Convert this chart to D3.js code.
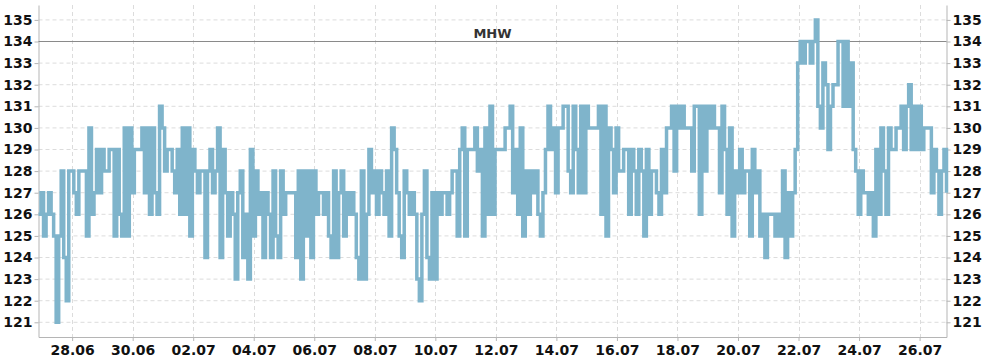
<!DOCTYPE html>
<html>
<head>
<meta charset="utf-8">
<script src="https://cdn.jsdelivr.net/npm/d3@7"></script>
<style>
  body { margin: 0; background: #fff; }
  svg { display: block; font-family: "DejaVu Sans", sans-serif; }
</style>
</head>
<body>
<div id="chart"></div>
<script>
// water level readings, one every 2 hours from 26.06 21:20
const startTime = "2023-06-26T21:20:00Z";
const stepHours = 2;
const levels = [
  126,127,125,126,127,126,125,121,125,128,124,122,128,128,127,126,128,128,128,125,
  130,126,127,129,127,129,128,128,129,129,125,129,126,125,130,125,130,127,129,129,
  129,130,127,130,126,130,127,126,131,130,128,129,129,128,127,129,126,130,126,130,
  125,129,128,127,128,128,124,128,129,127,128,130,124,129,127,125,127,126,123,127,
  128,124,126,123,129,125,128,126,127,124,127,126,124,128,125,124,128,126,127,127,
  127,127,124,128,123,128,125,128,124,128,126,127,127,126,127,125,124,128,124,127,
  128,125,127,126,127,126,124,123,128,123,126,129,127,128,126,128,127,126,128,125,
  130,129,127,125,124,128,127,126,127,126,123,122,126,128,124,123,127,123,127,126,
  127,127,126,127,128,128,125,129,130,125,129,129,129,130,128,129,125,130,126,131,
  126,129,129,129,129,130,130,131,127,129,126,130,125,128,126,128,127,128,126,125,
  127,129,131,129,130,127,130,130,131,131,128,127,131,129,127,131,127,131,130,130,
  130,130,131,126,131,125,130,129,127,130,128,128,129,129,126,129,128,126,129,128,
  125,129,126,128,128,127,126,129,127,130,130,131,128,131,130,131,130,130,130,128,
  131,131,126,131,128,131,130,131,130,130,127,131,129,126,130,125,128,127,129,127,
  128,128,125,129,127,128,125,126,124,126,126,126,125,126,125,128,124,127,125,127,
  129,133,134,133,134,134,133,134,135,131,130,133,132,129,131,132,132,134,134,131,
  134,131,133,129,128,126,128,127,127,126,127,125,129,126,130,128,126,130,129,129,
  130,130,131,129,131,132,129,131,129,131,129,130,130,130,127,129,128,126,128,129,
  127
];
const yTicks = [121,122,123,124,125,126,127,128,129,130,131,132,133,134,135];
const xTickDates = ["2023-06-28","2023-06-30","2023-07-02","2023-07-04","2023-07-06",
  "2023-07-08","2023-07-10","2023-07-12","2023-07-14","2023-07-16","2023-07-18",
  "2023-07-20","2023-07-22","2023-07-24","2023-07-26"];
const mhwLevel = 134;
const mhwLabel = "MHW";

const w = 990;
const h = 360;
const plotLeft = 38.5;
const plotRight = 946.5;
const plotTop = 5;
const plotBottom = 337;

const t0 = new Date(startTime);
const data = levels.map((v, i) => ({
  t: new Date(t0.getTime() + i * stepHours * 3600 * 1000),
  v: v
}));

const svg = d3.select("#chart").append("svg").attr("width", w).attr("height", h);

const x = d3.scaleUtc()
  .domain(d3.extent(data, (d) => d.t))
  .range([plotLeft, plotRight]);
const y = d3.scaleLinear()
  .domain([120.32, 135.69])
  .range([plotBottom, plotTop]);

const xTicks = xTickDates.map((s) => new Date(s + "T00:00:00Z"));

// grid
svg.append("g")
  .selectAll("line")
  .data(yTicks)
  .enter()
  .append("line")
  .attr("x1", plotLeft).attr("x2", plotRight)
  .attr("y1", (d) => y(d)).attr("y2", (d) => y(d))
  .attr("stroke", "#dcdcdc")
  .attr("stroke-dasharray", "4,3");
svg.append("g")
  .selectAll("line")
  .data(xTicks)
  .enter()
  .append("line")
  .attr("x1", (d) => Math.round(x(d)) + 0.5).attr("x2", (d) => Math.round(x(d)) + 0.5)
  .attr("y1", plotTop).attr("y2", plotBottom)
  .attr("stroke", "#dcdcdc")
  .attr("stroke-dasharray", "4,3");

// axes
const styleAxis = (g) => {
  g.select(".domain").attr("stroke", "#b5b5b5");
  g.selectAll(".tick line").attr("stroke", "#b5b5b5");
  g.selectAll(".tick text")
    .attr("fill", "#111")
    .attr("font-size", 14)
    .attr("font-weight", "bold")
    .attr("font-family", "DejaVu Sans, sans-serif");
};

svg.append("g")
  .attr("transform", "translate(" + plotLeft + ",0)")
  .call(d3.axisLeft(y).tickValues(yTicks).tickSize(4).tickPadding(2).tickSizeOuter(0))
  .call(styleAxis);
svg.append("g")
  .attr("transform", "translate(" + plotRight + ",0)")
  .call(d3.axisRight(y).tickValues(yTicks).tickSize(4).tickPadding(2).tickSizeOuter(0))
  .call(styleAxis);
svg.append("g")
  .attr("transform", "translate(0," + plotBottom + ")")
  .call(d3.axisBottom(x).tickValues(xTicks).tickFormat(d3.utcFormat("%d.%m")).tickSize(4).tickPadding(4).tickSizeOuter(0))
  .call(styleAxis);

// MHW reference line
svg.append("line")
  .attr("x1", plotLeft).attr("x2", plotRight)
  .attr("y1", y(mhwLevel)).attr("y2", y(mhwLevel))
  .attr("stroke", "#8a8a8a")
  .attr("stroke-width", 1);
svg.append("text")
  .attr("x", (plotLeft + plotRight) / 2)
  .attr("y", y(mhwLevel) - 4)
  .attr("text-anchor", "middle")
  .attr("fill", "#333")
  .attr("font-size", 13)
  .attr("font-weight", "bold")
  .text(mhwLabel);

// level line
const line = d3.line()
  .curve(d3.curveStepAfter)
  .x((d) => x(d.t))
  .y((d) => y(d.v));
svg.append("path")
  .datum(data)
  .attr("d", line)
  .attr("fill", "none")
  .attr("stroke", "#7fb4cb")
  .attr("stroke-width", 3.5);
</script>
</body>
</html>
